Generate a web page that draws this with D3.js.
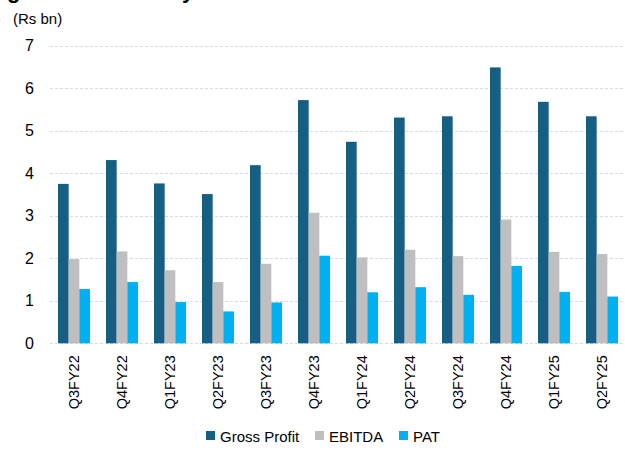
<!DOCTYPE html>
<html>
<head>
<meta charset="utf-8">
<script src="https://cdn.jsdelivr.net/npm/d3@7"></script>
<style>
  html, body { margin: 0; padding: 0; background: #fff; }
  svg { display: block; font-family: "Liberation Sans", Arial, sans-serif; }
</style>
</head>
<body>
<svg id="chart" width="625" height="450"></svg>
<script>
// Quarterly profitability, Rs bn
const quarters = ["Q3FY22","Q4FY22","Q1FY23","Q2FY23","Q3FY23","Q4FY23","Q1FY24","Q2FY24","Q3FY24","Q4FY24","Q1FY25","Q2FY25"];
const grossProfit = [3.75, 4.31, 3.76, 3.51, 4.19, 5.72, 4.74, 5.31, 5.34, 6.49, 5.68, 5.34];
const ebitda      = [1.98, 2.16, 1.72, 1.44, 1.87, 3.07, 2.02, 2.20, 2.05, 2.91, 2.15, 2.10];
const pat         = [1.28, 1.44, 0.97, 0.75, 0.96, 2.06, 1.20, 1.32, 1.14, 1.82, 1.21, 1.10];
const seriesNames = ["Gross Profit", "EBITDA", "PAT"];
const yTicks = [0, 1, 2, 3, 4, 5, 6, 7];
const unitLabel = "(Rs bn)";

const colors = { "Gross Profit": "#155f82", "EBITDA": "#bfbfbf", "PAT": "#00b0f0" };
const seriesValues = { "Gross Profit": grossProfit, "EBITDA": ebitda, "PAT": pat };

const svg = d3.select("#chart");
const plotLeft = 50, plotRight = 626, plotTop = 45.7, plotBottom = 343.3;

const x0 = d3.scaleBand().domain(quarters).range([plotLeft, plotRight])
  .paddingInner(1 / 3).paddingOuter(1 / 6);
const x1 = d3.scaleBand().domain(seriesNames).range([0, x0.bandwidth()]).padding(0);
const y = d3.scaleLinear().domain([0, 7]).range([plotBottom, plotTop]);

// heading runs off the top edge; only its descenders remain visible
svg.append("g").attr("font-weight", "bold").attr("font-size", 22).attr("fill", "#000")
  .selectAll("text").data([{ t: "g", x: 7 }, { t: "y", x: 182 }]).join("text")
  .attr("x", d => d.x).attr("y", -2).text(d => d.t);

// unit label
svg.append("text").attr("x", 13).attr("y", 24).attr("font-size", 15).attr("fill", "#000")
  .text(unitLabel);

// gridlines
svg.append("g").selectAll("line").data(yTicks).join("line")
  .attr("x1", plotLeft).attr("x2", 625)
  .attr("y1", d => Math.round(y(d)) + 0.5).attr("y2", d => Math.round(y(d)) + 0.5)
  .attr("stroke", "#d9d9d9").attr("stroke-width", 1).attr("stroke-dasharray", "3,2");

// y axis labels
const yAxis = d3.axisLeft(y).tickValues(yTicks).tickSize(0).tickPadding(0).tickFormat(d3.format("d"));
const yg = svg.append("g").attr("transform", `translate(34,0)`).call(yAxis);
yg.select(".domain").remove();
yg.selectAll("text").attr("font-size", 16).attr("fill", "#000").attr("font-family", "Liberation Sans, Arial, sans-serif");

// bars
const groups = svg.append("g").selectAll("g").data(quarters).join("g")
  .attr("transform", d => `translate(${x0(d)},0)`);
groups.selectAll("rect")
  .data((q, i) => seriesNames.map(s => ({ s, v: seriesValues[s][i] })))
  .join("rect")
  .attr("x", d => x1(d.s))
  .attr("width", x1.bandwidth())
  .attr("y", d => y(d.v))
  .attr("height", d => y(0) - y(d.v))
  .attr("fill", d => colors[d.s]);

// x axis labels (rotated)
const xAxis = d3.axisBottom(x0).tickSize(0).tickPadding(0);
const xg = svg.append("g").attr("transform", `translate(0,${plotBottom})`).call(xAxis);
xg.select(".domain").remove();
xg.selectAll("text")
  .attr("font-size", 14.5).attr("fill", "#000").attr("font-family", "Liberation Sans, Arial, sans-serif")
  .attr("text-anchor", "end").attr("dy", "0.35em")
  .attr("transform", "translate(0,12) rotate(-90)")
  .attr("x", 0).attr("y", 0);

// legend
const legendItems = [
  { s: "Gross Profit", x: 206 },
  { s: "EBITDA", x: 315 },
  { s: "PAT", x: 399 }
];
const lg = svg.append("g").selectAll("g").data(legendItems).join("g")
  .attr("transform", d => `translate(${d.x},431)`);
lg.append("rect").attr("width", 9).attr("height", 9).attr("fill", d => colors[d.s]);
lg.append("text").attr("x", 14).attr("y", 10.5).attr("font-size", 15).attr("fill", "#000")
  .text(d => d.s);
</script>
</body>
</html>
